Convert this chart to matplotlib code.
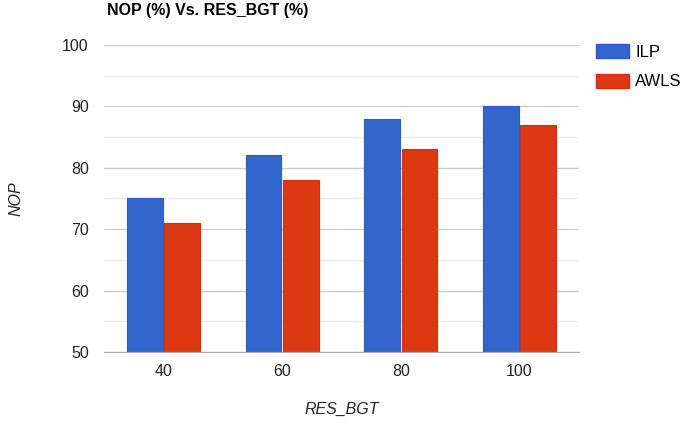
import numpy as np
import matplotlib.pyplot as plt
from matplotlib.patches import Patch

plt.rcParams['font.family'] = ['Liberation Sans', 'DejaVu Sans']

# дані
categories = ['40', '60', '80', '100']
ilp = [75, 82, 88, 90]
awls = [71, 78, 83, 87]

fig = plt.figure(figsize=(6.85, 4.24), dpi=100)
ax = fig.add_axes([0.152, 0.170, 0.693, 0.724])

x = np.arange(len(categories))
w = 0.30
ax.bar(x - w / 2 - 0.008, ilp, w, color='#3366cc', edgecolor='#2a5bd7', linewidth=0.8, zorder=3)
ax.bar(x + w / 2 + 0.008, awls, w, color='#dc3912', edgecolor='#e8260a', linewidth=0.8, zorder=3)

ax.set_ylim(50, 100)
ax.set_xlim(-0.5, len(categories) - 0.5)
ax.set_yticks(np.arange(50, 101, 10))
ax.set_yticks(np.arange(55, 100, 10), minor=True)
ax.set_xticks(x)
ax.set_xticklabels(categories)
ax.tick_params(axis='both', length=0, labelsize=11.5, colors='#222222')
ax.tick_params(axis='x', pad=9)
ax.tick_params(axis='y', pad=11)
ax.tick_params(axis='y', which='minor', length=0)
ax.grid(axis='y', which='major', color='#cccccc', linewidth=1, zorder=0)
ax.grid(axis='y', which='minor', color='#ebebeb', linewidth=1, zorder=0)
for s in ['top', 'right', 'left']:
    ax.spines[s].set_visible(False)
ax.spines['bottom'].set_color('#aaaaaa')
ax.spines['bottom'].set_zorder(4)

ax.set_xlabel('RES_BGT', fontstyle='italic', fontsize=11.5, color='#222222', labelpad=16)
ax.set_ylabel('NOP', fontstyle='italic', fontsize=11.5, color='#222222', labelpad=28)
fig.text(0.156, 0.975, 'NOP (%) Vs. RES_BGT (%)', fontsize=11.5, fontweight='bold', va='center', ha='left')

handles = [Patch(facecolor='#3366cc', edgecolor='#2a5bd7', label='ILP'),
           Patch(facecolor='#dc3912', edgecolor='#e8260a', label='AWLS')]
fig.legend(handles=handles, loc='upper left', bbox_to_anchor=(596 / 685, 1 - 44 / 424), frameon=False,
           borderpad=0, borderaxespad=0, fontsize=12, handlelength=2.0, handleheight=0.9,
           handletextpad=0.35, labelspacing=0.85)

fig.savefig('out.png', dpi=100)
